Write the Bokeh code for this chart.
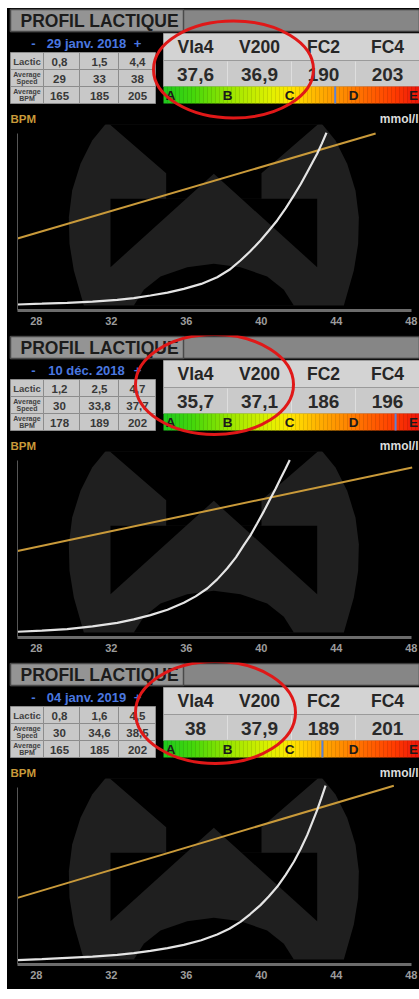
from bokeh.plotting import figure
from bokeh.layouts import column, row
from bokeh.models import Range1d, FixedTicker, Spacer
from bokeh.embed import file_html
from bokeh.resources import INLINE
from bokeh.core.properties import value

# ---------------- data ----------------
TITLE = "PROFIL LACTIQUE"
dates = ["29 janv. 2018", "10 déc. 2018", "04 janv. 2019"]
row_labels = [["Lactic"], ["Average", "Speed"], ["Average", "BPM"]]
lactic_tab = [["0,8", "1,5", "4,4"], ["1,2", "2,5", "4,7"], ["0,8", "1,6", "4,5"]]
speed_tab = [["29", "33", "38"], ["30", "33,8", "37,7"], ["30", "34,6", "38,5"]]
bpm_tab = [["165", "185", "205"], ["178", "189", "202"], ["165", "185", "202"]]
metric_names = ["Vla4", "V200", "FC2", "FC4"]
metric_vals = [["37,6", "36,9", "190", "203"],
               ["35,7", "37,1", "186", "196"],
               ["38", "37,9", "189", "201"]]
zone_letters = ["A", "B", "C", "D", "E"]
zone_marker = [2.70, 3.69, 2.49]          # position on the A..E zone scale

# lactate curve (speed km/h, lactate mmol/l)
curve_speed = [
    [27.0, 28.3, 29.65, 31.0, 32.32, 33.2, 34.09, 35.0, 35.87, 36.8, 37.65, 38.3, 38.89,
     39.4, 39.96, 40.4, 40.85, 41.3, 41.74, 42.1, 42.45, 42.7, 42.98, 43.23, 43.48],
    [27.0, 28.3, 29.65, 31.0, 32.32, 33.2, 34.09, 35.0, 35.87, 36.5, 37.12, 37.65, 38.18,
     38.65, 39.07, 39.45, 39.78, 40.15, 40.49, 40.77, 41.03, 41.28, 41.52],
    [27.0, 28.3, 29.65, 31.0, 32.32, 33.2, 34.09, 35.0, 35.87, 36.8, 37.65, 38.3, 38.89,
     39.4, 39.96, 40.4, 40.85, 41.3, 41.74, 42.1, 42.45, 42.7, 42.98, 43.2, 43.43],
]
curve_lactate = [
    [0.72, 0.82, 0.93, 1.08, 1.29, 1.50, 1.81, 2.15, 2.61, 3.20, 4.01, 4.90, 6.02,
     7.10, 8.43, 9.60, 10.84, 12.30, 13.86, 15.20, 16.66, 17.70, 18.88, 20.10, 21.41],
    [0.69, 0.82, 1.01, 1.33, 1.77, 2.18, 2.70, 3.35, 4.18, 4.95, 5.90, 7.00, 8.31,
     9.65, 11.13, 12.40, 13.73, 15.25, 16.75, 17.95, 19.16, 20.25, 21.37],
    [0.52, 0.64, 0.80, 0.96, 1.16, 1.37, 1.65, 1.97, 2.37, 2.92, 3.61, 4.30, 5.14,
     6.05, 7.15, 8.20, 9.36, 10.80, 12.37, 13.90, 15.58, 17.00, 18.59, 20.00, 21.53],
]
# heart-rate regression line (speed km/h, BPM)
hr_speed = [[27.0, 46.1], [27.0, 48.05], [27.0, 47.07]]
hr_bpm = [[157.9, 242.4], [169.5, 236.8], [153.6, 243.8]]
x_ticks = [28, 32, 36, 40, 44, 48]

# ---------------- decoration (watermark logo outline, logo units) ----------------
wm_outer_x = [320, 275, 240, 215, 205, 207, 220, 250, 1030, 1060, 1073, 1075, 1065, 1040, 1005, 960]
wm_outer_y = [65, 120, 190, 270, 350, 430, 510, 615, 615, 510, 430, 350, 270, 190, 120, 65]
wm_cut_x = [[320, 497, 497, 557, 640, 723, 783, 783, 960],
            [330, 557, 330], [950, 723, 950],
            [400, 430, 480, 560, 640, 720, 800, 850, 880]]
wm_cut_y = [[65, 218, 295, 295, 220, 295, 295, 218, 65],
            [295, 295, 500], [295, 295, 500],
            [615, 568, 528, 500, 490, 500, 528, 568, 615]]

FONT = value("Liberation Sans")
X0 = 7            # page x where the figures start
W = 419 - X0
HEAD_H = 116
CHART_H = 211
PX_PER_KMH = 18.75
X_START = 27 - (17 - X0) / PX_PER_KMH     # frame spans the full figure width
X_END = 27 + (419 - 17) / PX_PER_KMH

ellipses = [(233, 61, 160, 97), (214, 49, 158, 100), (215, 50, 160, 102)]

stops = [(0.0, (30, 200, 30)), (0.12, (70, 215, 10)), (0.25, (150, 230, 0)),
         (0.42, (225, 240, 0)), (0.5, (255, 228, 0)), (0.62, (255, 170, 0)),
         (0.75, (255, 120, 0)), (0.9, (255, 60, 0)), (1.0, (235, 20, 10))]


def grad(f):
    for (a, ca), (b, cb) in zip(stops[:-1], stops[1:]):
        if a <= f <= b:
            t = (f - a) / (b - a)
            c = [int(round(ca[k] + (cb[k] - ca[k]) * t)) for k in range(3)]
            return "#%02x%02x%02x" % tuple(c)
    return "#%02x%02x%02x" % stops[-1][1]


def txt(p, x, y, s, size, color, align="center", style="bold"):
    p.text(x=[x], y=[y], text=[s], text_font=FONT, text_font_style=style,
           text_font_size=size, text_color=color, text_align=align,
           text_baseline="middle")


def header(i):
    h = figure(width=W, height=HEAD_H, x_range=Range1d(X0, 419), y_range=Range1d(HEAD_H, 0),
               toolbar_location=None, output_backend="svg", x_axis_type=None, y_axis_type=None,
               min_border=0, background_fill_color="black", border_fill_color="black",
               outline_line_color=None)
    # title bar
    h.quad(left=10, right=419, top=1, bottom=23, fill_color="#868686", line_color="#3a3a3a", line_width=1.5)
    h.quad(left=10, right=183, top=1, bottom=23, fill_color="#949494", line_color="#4a4a4a", line_width=1.5)
    txt(h, 20, 12.5, TITLE, "17.5px", "#1c1c1c", align="left")
    # date selector
    txt(h, 33, 35, "-", "13px", "#4a78e0")
    txt(h, 86, 35, dates[i], "13px", "#4a78e0")
    txt(h, 137, 35, "+", "13px", "#4a78e0")
    # left table
    col_edges = [10, 43, 79, 118, 155]
    col_centers = [59, 99, 137]
    rows = [(44, 61), (61, 78), (78, 95)]
    tabs = [lactic_tab[i], speed_tab[i], bpm_tab[i]]
    for r, (y0, y1) in enumerate(rows):
        for c in range(4):
            h.quad(left=col_edges[c], right=col_edges[c + 1], top=y0, bottom=y1,
                   fill_color="#c8c8c8", line_color="#8c8c8c", line_width=1)
        lab = row_labels[r]
        ym = (y0 + y1) / 2
        if len(lab) == 1:
            txt(h, 26.5, ym, lab[0], "9.5px", "#404040")
        else:
            txt(h, 26.5, ym - 3.8, lab[0], "7px", "#404040")
            txt(h, 26.5, ym + 3.8, lab[1], "7px", "#404040")
        for c in range(3):
            txt(h, col_centers[c], ym + 0.5, tabs[r][c], "11.5px", "#383838")
    # right table
    redges = [163, 227, 291, 355, 419]
    h.quad(left=163, right=419, top=25, bottom=52, fill_color="#d3d3d3", line_color="#9a9a9a", line_width=1)
    h.quad(left=163, right=419, top=52, bottom=78, fill_color="#cacaca", line_color="#9a9a9a", line_width=1)
    for e in redges[1:-1]:
        h.segment(x0=e, y0=53, x1=e, y1=77, line_color="#dedede", line_width=1)
    for c in range(4):
        cx = (redges[c] + redges[c + 1]) / 2
        txt(h, cx, 38.5, metric_names[c], "17.5px", "#262626")
        txt(h, cx, 65.5, metric_vals[i][c], "19px", "#2a2a2a")
    # zone colour bar
    n = 64
    lefts = [163 + 256 * k / n for k in range(n)]
    rights = [163 + 256 * (k + 1) / n + 0.3 for k in range(n)]
    cols = [grad((k + 0.5) / n) for k in range(n)]
    h.quad(left=lefts, right=rights, top=78, bottom=95, fill_color=cols, line_color=None)
    letter_x = [170, 227, 289, 353, 413]
    for k, L in enumerate(zone_letters):
        txt(h, letter_x[k], 87, L, "13.5px", "#1a1a1a")
    mx = 170 + 61 * zone_marker[i]
    h.segment(x0=mx, y0=78, x1=mx, y1=95, line_color="#5b82d6", line_width=2)
    # axis captions
    txt(h, 10, 110, "BPM", "11.5px", "#c99a3a", align="left")
    txt(h, 418, 110, "mmol/l", "12px", "#dcdcdc", align="right")
    # red highlight ellipse
    cx, cy, ew, eh = ellipses[i]
    h.ellipse(x=cx, y=cy, width=ew, height=eh, fill_color=None, line_color="#e01818", line_width=3)
    return h


def chart(i):
    p = figure(width=W, height=CHART_H, x_range=Range1d(X_START, X_END), y_range=Range1d(0, 22.4),
               toolbar_location=None, output_backend="svg",
               min_border_left=0, min_border_right=0, min_border_top=0, min_border_bottom=25,
               background_fill_color="black", border_fill_color="black", outline_line_color=None)
    p.extra_y_ranges = {"bpm": Range1d(100, 249.6), "wmy": Range1d(630, 72)}
    p.extra_x_ranges = {"wmx": Range1d(51 - 3 * (17 - X0), 1257)}
    p.grid.visible = False
    p.patch(wm_outer_x, wm_outer_y, x_range_name="wmx", y_range_name="wmy",
            fill_color="#1f1f1f", line_color=None)
    p.patches(wm_cut_x, wm_cut_y, x_range_name="wmx", y_range_name="wmy",
              fill_color="black", line_color=None)
    p.line(hr_speed[i], hr_bpm[i], y_range_name="bpm", line_color="#c99a3a", line_width=2)
    p.line(curve_speed[i], curve_lactate[i], line_color="#e4e4e4", line_width=2.2)

    xa = p.xaxis[0]
    xa.ticker = FixedTicker(ticks=x_ticks)
    xa.bounds = (27, 48)
    xa.axis_line_color = "#6c6c6c"
    xa.axis_line_width = 3
    xa.major_tick_line_color = None
    xa.minor_tick_line_color = None
    xa.major_tick_out = 0
    xa.major_tick_in = 0
    xa.major_label_standoff = 6
    xa.major_label_text_font = "Liberation Sans"
    xa.major_label_text_font_style = "bold"
    xa.major_label_text_font_size = "11px"
    xa.major_label_text_color = "#9c9c9c"

    ya = p.yaxis[0]
    ya.fixed_location = 27
    ya.ticker = FixedTicker(ticks=[])
    ya.bounds = (0, 21.3)
    ya.axis_line_color = "#555555"
    ya.axis_line_width = 1
    ya.major_tick_line_color = None
    ya.minor_tick_line_color = None
    ya.major_tick_out = 0
    ya.major_label_text_font_size = "0px"
    return p


children = []
for i in range(3):
    children.append(header(i))
    children.append(chart(i))

inner = column(children, spacing=0, styles={"background-color": "black"})
layout = row([Spacer(width=X0, height=8, styles={"background-color": "white"}),
              column([Spacer(width=W, height=8, styles={"background-color": "white"}), inner],
                     spacing=0)], spacing=0)
open("out.html", "w").write(file_html(layout, INLINE))
